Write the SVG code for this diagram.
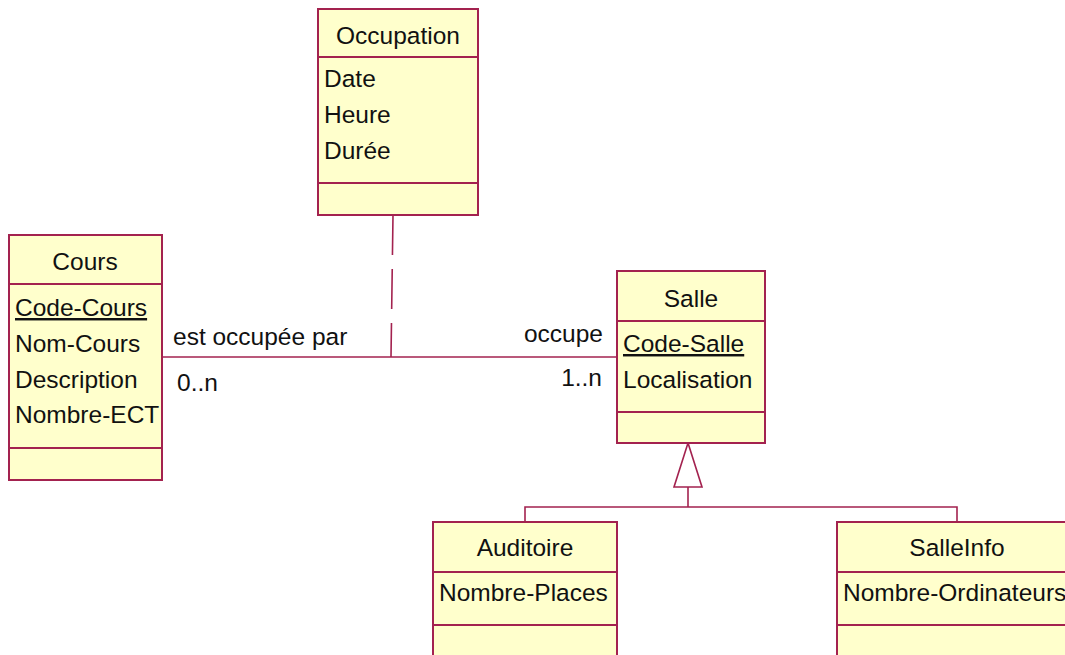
<svg xmlns="http://www.w3.org/2000/svg" width="1065" height="655" viewBox="0 0 1065 655">
<style>
.box{fill:#ffffcc;stroke:#a3224f;stroke-width:2}
.div{stroke:#a3224f;stroke-width:2}
.ln{stroke:#a3224f;stroke-width:1.6;fill:none}
text{font-family:"Liberation Sans",Arial,sans-serif;font-size:24.5px;fill:#111}
.c{text-anchor:middle}
.r{text-anchor:end}
.u{text-decoration:underline}
</style>
<rect width="1065" height="655" fill="#ffffff"/>
<g id="connectors">
<line class="ln" x1="162" y1="357" x2="617" y2="357"/>
<line class="ln" x1="393" y1="215" x2="391" y2="357" stroke-dasharray="40,14"/>
<polygon class="ln" points="688,443 674,487 702,487" fill="#ffffff"/>
<polyline class="ln" points="688,487 688,507"/>
<polyline class="ln" points="525,522 525,507 957,507 957,522"/>
<text x="173" y="345">est occupée par</text>
<text x="177" y="391">0..n</text>
<text class="r" x="603" y="342">occupe</text>
<text class="r" x="602" y="386">1..n</text>
</g>
<g id="Occupation">
<rect class="box" x="318" y="9" width="160" height="206"/>
<line class="div" x1="318" y1="57" x2="478" y2="57"/>
<line class="div" x1="318" y1="183" x2="478" y2="183"/>
<text class="c" x="398" y="44">Occupation</text>
<text x="324" y="87">Date</text>
<text x="324" y="123">Heure</text>
<text x="324" y="159">Durée</text>
</g>
<g id="Cours">
<rect class="box" x="9" y="235" width="153" height="245"/>
<line class="div" x1="9" y1="284" x2="162" y2="284"/>
<line class="div" x1="9" y1="448" x2="162" y2="448"/>
<text class="c" x="85" y="270">Cours</text>
<text class="u" x="15" y="316">Code-Cours</text>
<text x="15" y="352">Nom-Cours</text>
<text x="15" y="388">Description</text>
<text x="15" y="423">Nombre-ECT</text>
</g>
<g id="Salle">
<rect class="box" x="617" y="271" width="148" height="172"/>
<line class="div" x1="617" y1="321" x2="765" y2="321"/>
<line class="div" x1="617" y1="412" x2="765" y2="412"/>
<text class="c" x="691" y="307">Salle</text>
<text class="u" x="623" y="352">Code-Salle</text>
<text x="623" y="388">Localisation</text>
</g>
<g id="Auditoire">
<rect class="box" x="433" y="522" width="184" height="150"/>
<line class="div" x1="433" y1="572" x2="617" y2="572"/>
<line class="div" x1="433" y1="625" x2="617" y2="625"/>
<text class="c" x="525" y="556">Auditoire</text>
<text x="439" y="601">Nombre-Places</text>
</g>
<g id="SalleInfo">
<rect class="box" x="837" y="522" width="240" height="150"/>
<line class="div" x1="837" y1="572" x2="1077" y2="572"/>
<line class="div" x1="837" y1="625" x2="1077" y2="625"/>
<text class="c" x="957" y="556">SalleInfo</text>
<text x="843" y="601">Nombre-Ordinateurs</text>
</g>
</svg>
